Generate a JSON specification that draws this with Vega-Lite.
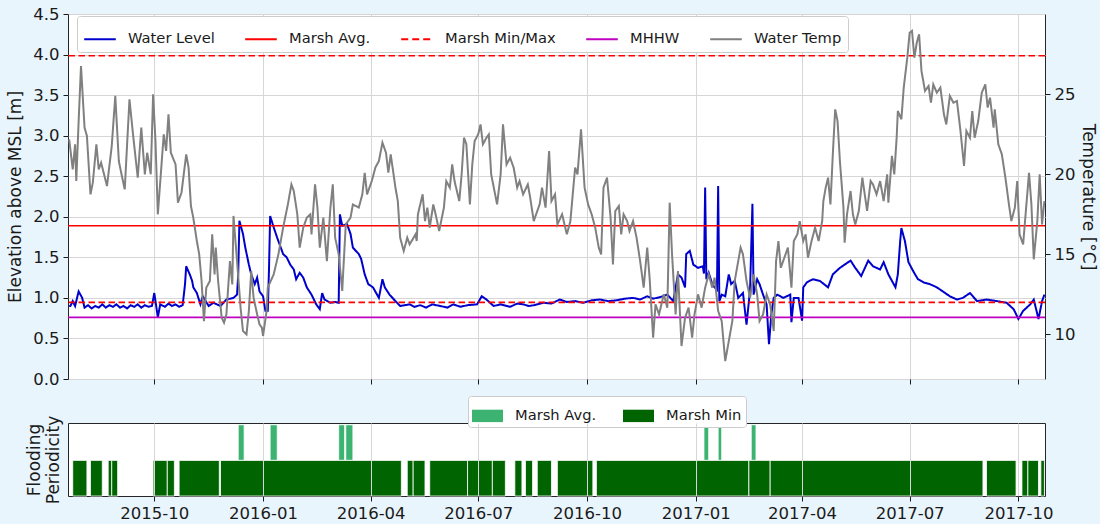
{
  "$schema": "https://vega.github.io/schema/vega-lite/v6.json",
  "background": "#e9f5fc",
  "padding": {"left": 6, "top": 5, "right": 4, "bottom": 2},
  "config": {
    "font": "DejaVu Sans",
    "view": {"stroke": "#262626", "strokeWidth": 1, "fill": "white"},
    "axis": {"domain": false, "labelFont": "DejaVu Sans", "titleFont": "DejaVu Sans", "labelFontSize": 16.5, "titleFontSize": 17, "titleFontWeight": "normal", "labelColor": "#1a1a1a", "titleColor": "#1a1a1a", "tickColor": "#1a1a1a", "gridColor": "#d6d6d6", "gridWidth": 1, "tickSize": 5, "labelPadding": 4},
    "legend": {"labelFont": "DejaVu Sans", "labelFontSize": 14.7, "labelColor": "#1a1a1a"},
    "concat": {"spacing": 7}
  },
  "datasets": {
    "wl": [
      {"date": "2015-07-21", "level": 0.90}, {"date": "2015-07-22", "level": 0.90}, {"date": "2015-07-24", "level": 0.96}, {"date": "2015-07-26", "level": 0.90},
      {"date": "2015-07-29", "level": 1.08}, {"date": "2015-08-01", "level": 1.00}, {"date": "2015-08-03", "level": 0.88}, {"date": "2015-08-06", "level": 0.91},
      {"date": "2015-08-09", "level": 0.87}, {"date": "2015-08-12", "level": 0.90}, {"date": "2015-08-15", "level": 0.88}, {"date": "2015-08-18", "level": 0.92},
      {"date": "2015-08-21", "level": 0.88}, {"date": "2015-08-24", "level": 0.91}, {"date": "2015-08-27", "level": 0.89}, {"date": "2015-08-30", "level": 0.92},
      {"date": "2015-09-02", "level": 0.88}, {"date": "2015-09-05", "level": 0.90}, {"date": "2015-09-08", "level": 0.87}, {"date": "2015-09-11", "level": 0.91},
      {"date": "2015-09-14", "level": 0.89}, {"date": "2015-09-17", "level": 0.92}, {"date": "2015-09-20", "level": 0.88}, {"date": "2015-09-23", "level": 0.91},
      {"date": "2015-09-26", "level": 0.89}, {"date": "2015-09-29", "level": 0.90}, {"date": "2015-10-01", "level": 1.06}, {"date": "2015-10-04", "level": 0.76},
      {"date": "2015-10-06", "level": 0.92}, {"date": "2015-10-10", "level": 0.89}, {"date": "2015-10-13", "level": 0.93}, {"date": "2015-10-16", "level": 0.90},
      {"date": "2015-10-19", "level": 0.92}, {"date": "2015-10-22", "level": 0.89}, {"date": "2015-10-25", "level": 0.91}, {"date": "2015-10-27", "level": 1.17},
      {"date": "2015-10-28", "level": 1.39}, {"date": "2015-10-31", "level": 1.29}, {"date": "2015-11-02", "level": 1.21}, {"date": "2015-11-03", "level": 1.13},
      {"date": "2015-11-06", "level": 1.06}, {"date": "2015-11-09", "level": 0.92}, {"date": "2015-11-11", "level": 1.02}, {"date": "2015-11-16", "level": 0.90},
      {"date": "2015-11-20", "level": 0.94}, {"date": "2015-11-26", "level": 0.90}, {"date": "2015-12-01", "level": 0.98}, {"date": "2015-12-07", "level": 1.00},
      {"date": "2015-12-10", "level": 1.04}, {"date": "2015-12-11", "level": 1.29}, {"date": "2015-12-12", "level": 1.95}, {"date": "2015-12-15", "level": 1.79},
      {"date": "2015-12-17", "level": 1.62}, {"date": "2015-12-20", "level": 1.41}, {"date": "2015-12-22", "level": 1.29}, {"date": "2015-12-25", "level": 1.17},
      {"date": "2015-12-27", "level": 1.25}, {"date": "2015-12-29", "level": 1.08}, {"date": "2016-01-01", "level": 1.02}, {"date": "2016-01-03", "level": 0.84},
      {"date": "2016-01-05", "level": 0.84}, {"date": "2016-01-06", "level": 1.33}, {"date": "2016-01-07", "level": 2.01}, {"date": "2016-01-10", "level": 1.87},
      {"date": "2016-01-13", "level": 1.74}, {"date": "2016-01-15", "level": 1.66}, {"date": "2016-01-18", "level": 1.54}, {"date": "2016-01-21", "level": 1.50},
      {"date": "2016-01-24", "level": 1.41}, {"date": "2016-01-27", "level": 1.35}, {"date": "2016-01-29", "level": 1.23}, {"date": "2016-02-01", "level": 1.31},
      {"date": "2016-02-04", "level": 1.25}, {"date": "2016-02-07", "level": 1.13}, {"date": "2016-02-11", "level": 1.04}, {"date": "2016-02-15", "level": 0.92},
      {"date": "2016-02-18", "level": 0.86}, {"date": "2016-02-20", "level": 1.06}, {"date": "2016-02-22", "level": 0.98}, {"date": "2016-02-27", "level": 0.94},
      {"date": "2016-03-02", "level": 0.95}, {"date": "2016-03-05", "level": 0.94}, {"date": "2016-03-06", "level": 2.03}, {"date": "2016-03-08", "level": 1.89},
      {"date": "2016-03-12", "level": 1.91}, {"date": "2016-03-15", "level": 1.79}, {"date": "2016-03-17", "level": 1.62}, {"date": "2016-03-22", "level": 1.54},
      {"date": "2016-03-24", "level": 1.48}, {"date": "2016-03-27", "level": 1.29}, {"date": "2016-03-30", "level": 1.17}, {"date": "2016-04-03", "level": 1.13},
      {"date": "2016-04-08", "level": 1.00}, {"date": "2016-04-11", "level": 1.23}, {"date": "2016-04-13", "level": 1.13}, {"date": "2016-04-17", "level": 1.04},
      {"date": "2016-04-22", "level": 0.96}, {"date": "2016-04-26", "level": 0.90}, {"date": "2016-05-04", "level": 0.92}, {"date": "2016-05-08", "level": 0.89},
      {"date": "2016-05-13", "level": 0.91}, {"date": "2016-05-18", "level": 0.88}, {"date": "2016-05-23", "level": 0.92}, {"date": "2016-05-30", "level": 0.90},
      {"date": "2016-06-05", "level": 0.88}, {"date": "2016-06-10", "level": 0.92}, {"date": "2016-06-16", "level": 0.89}, {"date": "2016-06-22", "level": 0.91},
      {"date": "2016-06-30", "level": 0.92}, {"date": "2016-07-04", "level": 1.02}, {"date": "2016-07-08", "level": 0.98}, {"date": "2016-07-14", "level": 0.90},
      {"date": "2016-07-20", "level": 0.92}, {"date": "2016-07-28", "level": 0.89}, {"date": "2016-08-03", "level": 0.93}, {"date": "2016-08-08", "level": 0.92},
      {"date": "2016-08-13", "level": 0.90}, {"date": "2016-08-17", "level": 0.91}, {"date": "2016-08-25", "level": 0.94}, {"date": "2016-09-01", "level": 0.93},
      {"date": "2016-09-08", "level": 0.98}, {"date": "2016-09-14", "level": 0.95}, {"date": "2016-09-21", "level": 0.96}, {"date": "2016-09-28", "level": 0.94},
      {"date": "2016-10-05", "level": 0.97}, {"date": "2016-10-12", "level": 0.98}, {"date": "2016-10-19", "level": 0.96}, {"date": "2016-10-26", "level": 0.97},
      {"date": "2016-11-02", "level": 0.99}, {"date": "2016-11-09", "level": 1.00}, {"date": "2016-11-15", "level": 0.98}, {"date": "2016-11-21", "level": 1.02},
      {"date": "2016-11-26", "level": 0.99}, {"date": "2016-12-02", "level": 1.01}, {"date": "2016-12-08", "level": 1.04}, {"date": "2016-12-13", "level": 0.96},
      {"date": "2016-12-17", "level": 1.29}, {"date": "2016-12-20", "level": 1.25}, {"date": "2016-12-23", "level": 1.13}, {"date": "2016-12-24", "level": 1.54},
      {"date": "2016-12-27", "level": 1.58}, {"date": "2016-12-30", "level": 1.41}, {"date": "2017-01-03", "level": 1.37}, {"date": "2017-01-07", "level": 1.39},
      {"date": "2017-01-08", "level": 1.30}, {"date": "2017-01-09", "level": 2.36}, {"date": "2017-01-10", "level": 1.23}, {"date": "2017-01-12", "level": 1.31},
      {"date": "2017-01-15", "level": 1.17}, {"date": "2017-01-17", "level": 1.13}, {"date": "2017-01-19", "level": 1.10}, {"date": "2017-01-20", "level": 2.38},
      {"date": "2017-01-21", "level": 0.96}, {"date": "2017-01-23", "level": 1.04}, {"date": "2017-01-26", "level": 1.02}, {"date": "2017-01-29", "level": 1.29},
      {"date": "2017-01-31", "level": 1.17}, {"date": "2017-02-03", "level": 1.21}, {"date": "2017-02-06", "level": 1.00}, {"date": "2017-02-10", "level": 1.06},
      {"date": "2017-02-13", "level": 0.67}, {"date": "2017-02-16", "level": 1.10}, {"date": "2017-02-18", "level": 2.16}, {"date": "2017-02-19", "level": 1.04},
      {"date": "2017-02-22", "level": 1.23}, {"date": "2017-02-24", "level": 1.17}, {"date": "2017-02-27", "level": 1.04}, {"date": "2017-03-02", "level": 0.92},
      {"date": "2017-03-04", "level": 0.43}, {"date": "2017-03-06", "level": 0.80}, {"date": "2017-03-08", "level": 1.00}, {"date": "2017-03-11", "level": 1.04},
      {"date": "2017-03-16", "level": 1.00}, {"date": "2017-03-22", "level": 1.04}, {"date": "2017-03-23", "level": 0.70}, {"date": "2017-03-25", "level": 1.00},
      {"date": "2017-03-29", "level": 1.00}, {"date": "2017-04-01", "level": 0.72}, {"date": "2017-04-02", "level": 1.13}, {"date": "2017-04-05", "level": 1.19},
      {"date": "2017-04-10", "level": 1.23}, {"date": "2017-04-16", "level": 1.21}, {"date": "2017-04-23", "level": 1.13}, {"date": "2017-04-27", "level": 1.29},
      {"date": "2017-05-03", "level": 1.37}, {"date": "2017-05-12", "level": 1.46}, {"date": "2017-05-16", "level": 1.37}, {"date": "2017-05-21", "level": 1.27},
      {"date": "2017-05-27", "level": 1.46}, {"date": "2017-05-31", "level": 1.39}, {"date": "2017-06-06", "level": 1.35}, {"date": "2017-06-09", "level": 1.44},
      {"date": "2017-06-13", "level": 1.29}, {"date": "2017-06-19", "level": 1.13}, {"date": "2017-06-21", "level": 1.29}, {"date": "2017-06-23", "level": 1.70},
      {"date": "2017-06-24", "level": 1.86}, {"date": "2017-06-27", "level": 1.70}, {"date": "2017-06-30", "level": 1.44}, {"date": "2017-07-04", "level": 1.33},
      {"date": "2017-07-08", "level": 1.23}, {"date": "2017-07-13", "level": 1.19}, {"date": "2017-07-18", "level": 1.17}, {"date": "2017-07-24", "level": 1.13},
      {"date": "2017-07-29", "level": 1.08}, {"date": "2017-08-04", "level": 1.02}, {"date": "2017-08-10", "level": 0.98}, {"date": "2017-08-15", "level": 1.00},
      {"date": "2017-08-21", "level": 1.06}, {"date": "2017-08-27", "level": 0.96}, {"date": "2017-09-04", "level": 0.98}, {"date": "2017-09-13", "level": 0.96},
      {"date": "2017-09-21", "level": 0.94}, {"date": "2017-09-27", "level": 0.86}, {"date": "2017-10-01", "level": 0.74}, {"date": "2017-10-05", "level": 0.84},
      {"date": "2017-10-11", "level": 0.92}, {"date": "2017-10-14", "level": 0.98}, {"date": "2017-10-18", "level": 0.74}, {"date": "2017-10-21", "level": 0.96},
      {"date": "2017-10-23", "level": 1.04}
    ],
    "temp": [
      {"date": "2015-07-21", "temp": 22.17}, {"date": "2015-07-24", "temp": 20.29}, {"date": "2015-07-26", "temp": 21.86}, {"date": "2015-07-27", "temp": 19.56},
      {"date": "2015-07-29", "temp": 23.31}, {"date": "2015-07-31", "temp": 26.75}, {"date": "2015-08-03", "temp": 22.9}, {"date": "2015-08-05", "temp": 22.38},
      {"date": "2015-08-08", "temp": 18.73}, {"date": "2015-08-10", "temp": 19.46}, {"date": "2015-08-13", "temp": 21.86}, {"date": "2015-08-15", "temp": 20.29},
      {"date": "2015-08-17", "temp": 20.71}, {"date": "2015-08-22", "temp": 19.25}, {"date": "2015-08-26", "temp": 21.75}, {"date": "2015-08-29", "temp": 24.88},
      {"date": "2015-09-01", "temp": 20.81}, {"date": "2015-09-03", "temp": 20.08}, {"date": "2015-09-06", "temp": 19.04}, {"date": "2015-09-10", "temp": 24.67},
      {"date": "2015-09-13", "temp": 22.48}, {"date": "2015-09-17", "temp": 19.77}, {"date": "2015-09-20", "temp": 22.9}, {"date": "2015-09-23", "temp": 19.98},
      {"date": "2015-09-25", "temp": 21.33}, {"date": "2015-09-28", "temp": 19.98}, {"date": "2015-09-30", "temp": 24.98}, {"date": "2015-10-02", "temp": 22.06},
      {"date": "2015-10-04", "temp": 17.48}, {"date": "2015-10-09", "temp": 22.48}, {"date": "2015-10-11", "temp": 21.44}, {"date": "2015-10-13", "temp": 23.73},
      {"date": "2015-10-15", "temp": 21.33}, {"date": "2015-10-19", "temp": 20.6}, {"date": "2015-10-21", "temp": 18.21}, {"date": "2015-10-24", "temp": 18.83},
      {"date": "2015-10-28", "temp": 21.23}, {"date": "2015-10-30", "temp": 20.4}, {"date": "2015-11-01", "temp": 18.0}, {"date": "2015-11-03", "temp": 17.27},
      {"date": "2015-11-06", "temp": 15.81}, {"date": "2015-11-08", "temp": 14.98}, {"date": "2015-11-10", "temp": 13.31}, {"date": "2015-11-12", "temp": 10.81},
      {"date": "2015-11-14", "temp": 12.9}, {"date": "2015-11-17", "temp": 13.31}, {"date": "2015-11-19", "temp": 16.23}, {"date": "2015-11-21", "temp": 13.73},
      {"date": "2015-11-22", "temp": 15.4}, {"date": "2015-11-24", "temp": 13.31}, {"date": "2015-11-27", "temp": 11.02}, {"date": "2015-11-29", "temp": 10.71},
      {"date": "2015-12-01", "temp": 11.23}, {"date": "2015-12-04", "temp": 14.56}, {"date": "2015-12-06", "temp": 13.1}, {"date": "2015-12-07", "temp": 17.38},
      {"date": "2015-12-10", "temp": 14.56}, {"date": "2015-12-13", "temp": 11.65}, {"date": "2015-12-15", "temp": 10.19}, {"date": "2015-12-18", "temp": 9.98},
      {"date": "2015-12-20", "temp": 11.44}, {"date": "2015-12-22", "temp": 13.94}, {"date": "2015-12-24", "temp": 12.27}, {"date": "2015-12-27", "temp": 11.23},
      {"date": "2015-12-29", "temp": 10.6}, {"date": "2015-12-31", "temp": 10.4}, {"date": "2016-01-01", "temp": 9.88}, {"date": "2016-01-04", "temp": 11.44},
      {"date": "2016-01-05", "temp": 12.9}, {"date": "2016-01-10", "temp": 13.73}, {"date": "2016-01-14", "temp": 14.98}, {"date": "2016-01-18", "temp": 16.65},
      {"date": "2016-01-22", "temp": 18.1}, {"date": "2016-01-25", "temp": 19.35}, {"date": "2016-01-27", "temp": 18.94}, {"date": "2016-01-30", "temp": 17.48},
      {"date": "2016-02-01", "temp": 15.4}, {"date": "2016-02-04", "temp": 16.65}, {"date": "2016-02-07", "temp": 17.27}, {"date": "2016-02-10", "temp": 17.48},
      {"date": "2016-02-11", "temp": 16.23}, {"date": "2016-02-14", "temp": 19.35}, {"date": "2016-02-16", "temp": 17.9}, {"date": "2016-02-18", "temp": 15.4},
      {"date": "2016-02-21", "temp": 17.27}, {"date": "2016-02-24", "temp": 14.56}, {"date": "2016-02-27", "temp": 17.9}, {"date": "2016-02-29", "temp": 19.35},
      {"date": "2016-03-02", "temp": 16.02}, {"date": "2016-03-05", "temp": 14.98}, {"date": "2016-03-08", "temp": 12.69}, {"date": "2016-03-09", "temp": 14.14},
      {"date": "2016-03-11", "temp": 16.85}, {"date": "2016-03-15", "temp": 17.27}, {"date": "2016-03-17", "temp": 18.1}, {"date": "2016-03-22", "temp": 17.9},
      {"date": "2016-03-25", "temp": 18.73}, {"date": "2016-03-27", "temp": 20.08}, {"date": "2016-03-29", "temp": 18.73}, {"date": "2016-04-02", "temp": 19.56},
      {"date": "2016-04-05", "temp": 20.4}, {"date": "2016-04-08", "temp": 20.81}, {"date": "2016-04-11", "temp": 21.96}, {"date": "2016-04-14", "temp": 21.33},
      {"date": "2016-04-16", "temp": 20.08}, {"date": "2016-04-18", "temp": 21.23}, {"date": "2016-04-22", "temp": 19.15}, {"date": "2016-04-24", "temp": 18.31},
      {"date": "2016-04-26", "temp": 16.02}, {"date": "2016-04-29", "temp": 15.19}, {"date": "2016-05-02", "temp": 16.02}, {"date": "2016-05-04", "temp": 15.6},
      {"date": "2016-05-09", "temp": 16.23}, {"date": "2016-05-10", "temp": 15.81}, {"date": "2016-05-11", "temp": 17.48}, {"date": "2016-05-15", "temp": 18.73},
      {"date": "2016-05-17", "temp": 17.06}, {"date": "2016-05-19", "temp": 17.9}, {"date": "2016-05-21", "temp": 16.65}, {"date": "2016-05-24", "temp": 18.1},
      {"date": "2016-05-26", "temp": 17.48}, {"date": "2016-05-29", "temp": 16.44}, {"date": "2016-06-02", "temp": 17.9}, {"date": "2016-06-04", "temp": 19.56},
      {"date": "2016-06-07", "temp": 19.15}, {"date": "2016-06-09", "temp": 20.6}, {"date": "2016-06-11", "temp": 19.56}, {"date": "2016-06-15", "temp": 18.31},
      {"date": "2016-06-17", "temp": 19.98}, {"date": "2016-06-19", "temp": 22.27}, {"date": "2016-06-21", "temp": 21.86}, {"date": "2016-06-24", "temp": 18.1},
      {"date": "2016-06-26", "temp": 20.6}, {"date": "2016-06-28", "temp": 22.06}, {"date": "2016-07-01", "temp": 22.48}, {"date": "2016-07-03", "temp": 23.1},
      {"date": "2016-07-05", "temp": 21.86}, {"date": "2016-07-08", "temp": 22.27}, {"date": "2016-07-10", "temp": 22.48}, {"date": "2016-07-12", "temp": 19.98},
      {"date": "2016-07-17", "temp": 18.1}, {"date": "2016-07-20", "temp": 19.98}, {"date": "2016-07-22", "temp": 23.1}, {"date": "2016-07-25", "temp": 20.6},
      {"date": "2016-07-28", "temp": 21.02}, {"date": "2016-07-31", "temp": 20.4}, {"date": "2016-08-03", "temp": 19.15}, {"date": "2016-08-05", "temp": 19.56},
      {"date": "2016-08-08", "temp": 18.73}, {"date": "2016-08-12", "temp": 19.35}, {"date": "2016-08-14", "temp": 18.52}, {"date": "2016-08-17", "temp": 17.06},
      {"date": "2016-08-20", "temp": 17.69}, {"date": "2016-08-22", "temp": 18.1}, {"date": "2016-08-24", "temp": 19.15}, {"date": "2016-08-27", "temp": 17.9},
      {"date": "2016-08-30", "temp": 21.44}, {"date": "2016-09-01", "temp": 18.31}, {"date": "2016-09-04", "temp": 18.73}, {"date": "2016-09-06", "temp": 16.85},
      {"date": "2016-09-10", "temp": 17.48}, {"date": "2016-09-14", "temp": 16.23}, {"date": "2016-09-17", "temp": 17.06}, {"date": "2016-09-21", "temp": 20.4},
      {"date": "2016-09-23", "temp": 19.98}, {"date": "2016-09-26", "temp": 22.79}, {"date": "2016-09-29", "temp": 19.15}, {"date": "2016-10-02", "temp": 18.1},
      {"date": "2016-10-05", "temp": 17.48}, {"date": "2016-10-08", "temp": 16.65}, {"date": "2016-10-11", "temp": 15.4}, {"date": "2016-10-13", "temp": 14.98},
      {"date": "2016-10-15", "temp": 19.15}, {"date": "2016-10-18", "temp": 19.77}, {"date": "2016-10-21", "temp": 17.27}, {"date": "2016-10-23", "temp": 14.35},
      {"date": "2016-10-25", "temp": 17.69}, {"date": "2016-10-28", "temp": 18.0}, {"date": "2016-10-30", "temp": 16.23}, {"date": "2016-11-01", "temp": 17.48},
      {"date": "2016-11-04", "temp": 17.06}, {"date": "2016-11-06", "temp": 16.44}, {"date": "2016-11-09", "temp": 17.06}, {"date": "2016-11-12", "temp": 16.02},
      {"date": "2016-11-15", "temp": 14.56}, {"date": "2016-11-18", "temp": 12.9}, {"date": "2016-11-21", "temp": 15.4}, {"date": "2016-11-23", "temp": 13.52},
      {"date": "2016-11-26", "temp": 9.77}, {"date": "2016-11-28", "temp": 11.85}, {"date": "2016-12-01", "temp": 11.23}, {"date": "2016-12-05", "temp": 12.48},
      {"date": "2016-12-08", "temp": 11.65}, {"date": "2016-12-10", "temp": 18.21}, {"date": "2016-12-12", "temp": 14.98}, {"date": "2016-12-15", "temp": 11.23},
      {"date": "2016-12-17", "temp": 13.94}, {"date": "2016-12-20", "temp": 9.25}, {"date": "2016-12-23", "temp": 11.02}, {"date": "2016-12-26", "temp": 11.65},
      {"date": "2016-12-29", "temp": 9.77}, {"date": "2016-12-31", "temp": 11.23}, {"date": "2017-01-03", "temp": 12.48}, {"date": "2017-01-06", "temp": 11.65},
      {"date": "2017-01-09", "temp": 12.9}, {"date": "2017-01-12", "temp": 13.73}, {"date": "2017-01-15", "temp": 12.9}, {"date": "2017-01-17", "temp": 13.52},
      {"date": "2017-01-20", "temp": 11.44}, {"date": "2017-01-23", "temp": 10.81}, {"date": "2017-01-26", "temp": 8.31}, {"date": "2017-01-29", "temp": 9.56},
      {"date": "2017-02-01", "temp": 10.81}, {"date": "2017-02-03", "temp": 13.31}, {"date": "2017-02-08", "temp": 15.4}, {"date": "2017-02-10", "temp": 14.98},
      {"date": "2017-02-13", "temp": 13.31}, {"date": "2017-02-16", "temp": 12.27}, {"date": "2017-02-19", "temp": 13.73}, {"date": "2017-02-22", "temp": 12.48},
      {"date": "2017-02-24", "temp": 10.81}, {"date": "2017-02-27", "temp": 11.23}, {"date": "2017-03-02", "temp": 12.48}, {"date": "2017-03-05", "temp": 11.85},
      {"date": "2017-03-08", "temp": 10.19}, {"date": "2017-03-10", "temp": 14.56}, {"date": "2017-03-12", "temp": 15.81}, {"date": "2017-03-14", "temp": 14.14},
      {"date": "2017-03-16", "temp": 14.56}, {"date": "2017-03-18", "temp": 14.98}, {"date": "2017-03-20", "temp": 15.4}, {"date": "2017-03-23", "temp": 12.9},
      {"date": "2017-03-25", "temp": 15.81}, {"date": "2017-03-28", "temp": 16.23}, {"date": "2017-03-30", "temp": 17.06}, {"date": "2017-04-02", "temp": 15.81},
      {"date": "2017-04-04", "temp": 16.23}, {"date": "2017-04-06", "temp": 14.77}, {"date": "2017-04-09", "temp": 15.81}, {"date": "2017-04-12", "temp": 16.65},
      {"date": "2017-04-15", "temp": 15.81}, {"date": "2017-04-18", "temp": 17.06}, {"date": "2017-04-19", "temp": 18.31}, {"date": "2017-04-21", "temp": 19.15},
      {"date": "2017-04-23", "temp": 19.77}, {"date": "2017-04-25", "temp": 18.1}, {"date": "2017-04-27", "temp": 21.23}, {"date": "2017-04-29", "temp": 24.04},
      {"date": "2017-05-01", "temp": 23.31}, {"date": "2017-05-03", "temp": 20.81}, {"date": "2017-05-06", "temp": 17.9}, {"date": "2017-05-07", "temp": 15.71},
      {"date": "2017-05-09", "temp": 17.48}, {"date": "2017-05-12", "temp": 18.94}, {"date": "2017-05-14", "temp": 17.48}, {"date": "2017-05-16", "temp": 16.85},
      {"date": "2017-05-19", "temp": 17.69}, {"date": "2017-05-22", "temp": 19.77}, {"date": "2017-05-24", "temp": 18.73}, {"date": "2017-05-26", "temp": 17.69},
      {"date": "2017-05-29", "temp": 19.56}, {"date": "2017-05-31", "temp": 19.35}, {"date": "2017-06-03", "temp": 18.73}, {"date": "2017-06-06", "temp": 19.56},
      {"date": "2017-06-09", "temp": 18.31}, {"date": "2017-06-12", "temp": 19.98}, {"date": "2017-06-13", "temp": 18.21}, {"date": "2017-06-16", "temp": 21.13},
      {"date": "2017-06-18", "temp": 19.98}, {"date": "2017-06-20", "temp": 22.27}, {"date": "2017-06-21", "temp": 23.94}, {"date": "2017-06-24", "temp": 23.42},
      {"date": "2017-06-26", "temp": 25.4}, {"date": "2017-06-29", "temp": 27.27}, {"date": "2017-07-01", "temp": 28.83}, {"date": "2017-07-03", "temp": 28.94},
      {"date": "2017-07-05", "temp": 27.27}, {"date": "2017-07-07", "temp": 28.21}, {"date": "2017-07-09", "temp": 28.73}, {"date": "2017-07-11", "temp": 26.44},
      {"date": "2017-07-14", "temp": 25.19}, {"date": "2017-07-17", "temp": 25.5}, {"date": "2017-07-19", "temp": 24.46}, {"date": "2017-07-21", "temp": 25.6},
      {"date": "2017-07-24", "temp": 25.08}, {"date": "2017-07-27", "temp": 25.4}, {"date": "2017-07-30", "temp": 23.73}, {"date": "2017-08-01", "temp": 23.1},
      {"date": "2017-08-04", "temp": 24.88}, {"date": "2017-08-07", "temp": 24.46}, {"date": "2017-08-10", "temp": 24.56}, {"date": "2017-08-13", "temp": 22.69},
      {"date": "2017-08-16", "temp": 20.5}, {"date": "2017-08-18", "temp": 22.69}, {"date": "2017-08-21", "temp": 22.27}, {"date": "2017-08-23", "temp": 23.94},
      {"date": "2017-08-25", "temp": 22.27}, {"date": "2017-08-28", "temp": 23.31}, {"date": "2017-08-31", "temp": 25.08}, {"date": "2017-09-03", "temp": 25.6},
      {"date": "2017-09-05", "temp": 24.15}, {"date": "2017-09-07", "temp": 24.77}, {"date": "2017-09-10", "temp": 22.9}, {"date": "2017-09-11", "temp": 24.04},
      {"date": "2017-09-14", "temp": 21.86}, {"date": "2017-09-17", "temp": 21.23}, {"date": "2017-09-20", "temp": 19.77}, {"date": "2017-09-23", "temp": 18.1},
      {"date": "2017-09-25", "temp": 17.06}, {"date": "2017-09-28", "temp": 17.9}, {"date": "2017-09-30", "temp": 19.56}, {"date": "2017-10-02", "temp": 16.23},
      {"date": "2017-10-05", "temp": 15.6}, {"date": "2017-10-08", "temp": 18.31}, {"date": "2017-10-10", "temp": 20.08}, {"date": "2017-10-12", "temp": 18.1},
      {"date": "2017-10-14", "temp": 14.67}, {"date": "2017-10-17", "temp": 17.06}, {"date": "2017-10-19", "temp": 19.98}, {"date": "2017-10-21", "temp": 16.85},
      {"date": "2017-10-23", "temp": 18.31}
    ],
    "refs": [
      {"series": "Marsh Avg.", "elev": 1.89},
      {"series": "Marsh Min/Max", "elev": 0.945},
      {"series": "Marsh Min/Max", "elev": 3.985},
      {"series": "MHHW", "elev": 0.76}
    ],
    "flood": [
      {"type": "Marsh Min", "start": "2015-07-24", "end": "2015-08-05"},
      {"type": "Marsh Min", "start": "2015-08-08", "end": "2015-08-18"},
      {"type": "Marsh Min", "start": "2015-08-23", "end": "2015-08-26"},
      {"type": "Marsh Min", "start": "2015-08-26", "end": "2015-08-31"},
      {"type": "Marsh Min", "start": "2015-09-30", "end": "2015-10-12"},
      {"type": "Marsh Min", "start": "2015-10-12", "end": "2015-10-18"},
      {"type": "Marsh Min", "start": "2015-10-22", "end": "2015-11-25"},
      {"type": "Marsh Min", "start": "2015-11-26", "end": "2016-04-27"},
      {"type": "Marsh Min", "start": "2016-05-02", "end": "2016-05-07"},
      {"type": "Marsh Min", "start": "2016-05-07", "end": "2016-05-17"},
      {"type": "Marsh Min", "start": "2016-05-21", "end": "2016-06-22"},
      {"type": "Marsh Min", "start": "2016-06-22", "end": "2016-07-13"},
      {"type": "Marsh Min", "start": "2016-07-13", "end": "2016-07-24"},
      {"type": "Marsh Min", "start": "2016-08-01", "end": "2016-08-07"},
      {"type": "Marsh Min", "start": "2016-08-10", "end": "2016-08-16"},
      {"type": "Marsh Min", "start": "2016-08-20", "end": "2016-09-01"},
      {"type": "Marsh Min", "start": "2016-09-06", "end": "2016-10-06"},
      {"type": "Marsh Min", "start": "2016-10-09", "end": "2017-02-15"},
      {"type": "Marsh Min", "start": "2017-02-15", "end": "2017-03-05"},
      {"type": "Marsh Min", "start": "2017-03-05", "end": "2017-09-01"},
      {"type": "Marsh Min", "start": "2017-09-04", "end": "2017-09-29"},
      {"type": "Marsh Min", "start": "2017-10-04", "end": "2017-10-09"},
      {"type": "Marsh Min", "start": "2017-10-09", "end": "2017-10-18"},
      {"type": "Marsh Min", "start": "2017-10-20", "end": "2017-10-23"},
      {"type": "Marsh Avg.", "start": "2015-12-11", "end": "2015-12-16"},
      {"type": "Marsh Avg.", "start": "2016-01-07", "end": "2016-01-13"},
      {"type": "Marsh Avg.", "start": "2016-03-05", "end": "2016-03-10"},
      {"type": "Marsh Avg.", "start": "2016-03-11", "end": "2016-03-17"},
      {"type": "Marsh Avg.", "start": "2017-01-08", "end": "2017-01-12"},
      {"type": "Marsh Avg.", "start": "2017-01-20", "end": "2017-01-23"},
      {"type": "Marsh Avg.", "start": "2017-02-17", "end": "2017-02-21"}
    ]
  },
  "resolve": {"scale": {"color": "independent", "x": "independent"}, "legend": {"color": "independent"}},
  "vconcat": [
    {
      "width": 977,
      "height": 365,
      "layer": [
        {
          "layer": [
            {
              "data": {"name": "wl"},
              "mark": {"type": "line", "strokeWidth": 2},
              "encoding": {
                "x": {"field": "date", "type": "temporal",
                  "scale": {"type": "utc", "domain": [{"year": 2015, "month": 7, "date": 20, "utc": true}, {"year": 2017, "month": 10, "date": 23, "hours": 12, "utc": true}]},
                  "axis": {"title": null, "labels": false, "grid": true, "tickSize": 5,
                    "values": [{"year": 2015, "month": 10, "date": 1, "utc": true}, {"year": 2016, "month": 1, "date": 1, "utc": true}, {"year": 2016, "month": 4, "date": 1, "utc": true}, {"year": 2016, "month": 7, "date": 1, "utc": true}, {"year": 2016, "month": 10, "date": 1, "utc": true}, {"year": 2017, "month": 1, "date": 1, "utc": true}, {"year": 2017, "month": 4, "date": 1, "utc": true}, {"year": 2017, "month": 7, "date": 1, "utc": true}, {"year": 2017, "month": 10, "date": 1, "utc": true}]}},
                "y": {"field": "level", "type": "quantitative",
                  "scale": {"domain": [0, 4.5], "nice": false, "zero": false},
                  "axis": {"orient": "left", "values": [0, 0.5, 1, 1.5, 2, 2.5, 3, 3.5, 4, 4.5], "format": ".1f", "title": "Elevation above MSL [m]", "grid": true, "titlePadding": 8}},
                "color": {"datum": "Water Level", "type": "nominal", "title": null,
                  "scale": {"domain": ["Water Level", "Marsh Avg.", "Marsh Min/Max", "MHHW", "Water Temp"], "range": ["#0000cd", "#ff0000", "#ff0000", "#c000c0", "#808080"]},
                  "legend": {"title": null, "orient": "none", "legendX": 9, "legendY": 2, "direction": "horizontal", "columns": 5,
                    "symbolType": "stroke", "symbolSize": 1000, "symbolStrokeWidth": 2, "labelOffset": 11, "columnPadding": 26,
                    "fillColor": "white", "strokeColor": "#cccccc", "padding": 6, "cornerRadius": 3,
                    "encode": {"symbols": {"update": {"strokeDash": {"signal": "datum.value === 'Marsh Min/Max' ? [7, 4] : [1, 0]"}}}}}},
                "strokeDash": {"datum": "Water Level", "type": "nominal", "title": null,
                  "scale": {"domain": ["Water Level", "Marsh Avg.", "Marsh Min/Max", "MHHW", "Water Temp"], "range": [[1, 0], [1, 0], [6.5, 3.5], [1, 0], [1, 0]]},
                  "legend": null}
              }
            },
            {
              "data": {"name": "refs"},
              "mark": {"type": "rule", "strokeWidth": 1.6},
              "encoding": {
                "y": {"field": "elev", "type": "quantitative"},
                "color": {"field": "series", "type": "nominal", "title": null, "legend": {"title": null}},
                "strokeDash": {"field": "series", "type": "nominal", "title": null, "legend": null}
              }
            }
          ]
        },
        {
          "data": {"name": "temp"},
          "mark": {"type": "line", "strokeWidth": 2},
          "encoding": {
            "x": {"field": "date", "type": "temporal"},
            "y": {"field": "temp", "type": "quantitative",
              "scale": {"domain": [7.19, 30], "nice": false, "zero": false},
              "axis": {"orient": "right", "values": [10, 15, 20, 25], "title": "Temperature [°C]", "grid": false, "titlePadding": 4}},
            "color": {"datum": "Water Temp", "type": "nominal", "title": null},
            "strokeDash": {"datum": "Water Temp", "type": "nominal", "title": null}
          }
        }
      ],
      "resolve": {"scale": {"y": "independent"}}
    },
    {
      "width": 977,
      "height": 73,
      "data": {"name": "flood"},
      "layer": [
        {
          "transform": [{"filter": "datum.type === 'Marsh Avg.'"}],
          "mark": {"type": "rect", "stroke": "white", "strokeWidth": 0.8},
          "encoding": {
            "x": {"field": "start", "type": "temporal",
              "scale": {"type": "utc", "domain": [{"year": 2015, "month": 7, "date": 20, "utc": true}, {"year": 2017, "month": 10, "date": 23, "hours": 12, "utc": true}]},
              "axis": {"title": null, "grid": true, "zindex": 1, "labelExpr": "utcFormat(datum.value, '%Y-%m')", "labelPadding": 4,
                "values": [{"year": 2015, "month": 10, "date": 1, "utc": true}, {"year": 2016, "month": 1, "date": 1, "utc": true}, {"year": 2016, "month": 4, "date": 1, "utc": true}, {"year": 2016, "month": 7, "date": 1, "utc": true}, {"year": 2016, "month": 10, "date": 1, "utc": true}, {"year": 2017, "month": 1, "date": 1, "utc": true}, {"year": 2017, "month": 4, "date": 1, "utc": true}, {"year": 2017, "month": 7, "date": 1, "utc": true}, {"year": 2017, "month": 10, "date": 1, "utc": true}]}},
            "x2": {"field": "end"},
            "y": {"datum": 1, "type": "quantitative", "scale": {"domain": [0, 2.05], "nice": false}, "axis": {"title": ["Flooding", "Periodicity"], "labels": false, "ticks": false, "grid": false, "titlePadding": 6}},
            "y2": {"datum": 2},
            "color": {"field": "type", "type": "nominal",
              "scale": {"domain": ["Marsh Avg.", "Marsh Min"], "range": ["#3cb371", "#006400"]},
              "legend": {"title": null, "orient": "none", "legendX": 400, "legendY": -27, "direction": "horizontal",
                "symbolType": "M-1,-0.4H1V0.4H-1Z", "symbolSize": 961, "symbolStrokeWidth": 0, "symbolOpacity": 1, "labelOffset": 12, "columnPadding": 26,
                "fillColor": "white", "strokeColor": "#cccccc", "padding": 4, "cornerRadius": 3}}
          }
        },
        {
          "transform": [{"filter": "datum.type === 'Marsh Min'"}],
          "mark": {"type": "rect", "stroke": "white", "strokeWidth": 0.8},
          "encoding": {
            "x": {"field": "start", "type": "temporal"},
            "x2": {"field": "end"},
            "y": {"datum": 0, "type": "quantitative"},
            "y2": {"datum": 1},
            "color": {"field": "type", "type": "nominal"}
          }
        }
      ]
    }
  ]
}
